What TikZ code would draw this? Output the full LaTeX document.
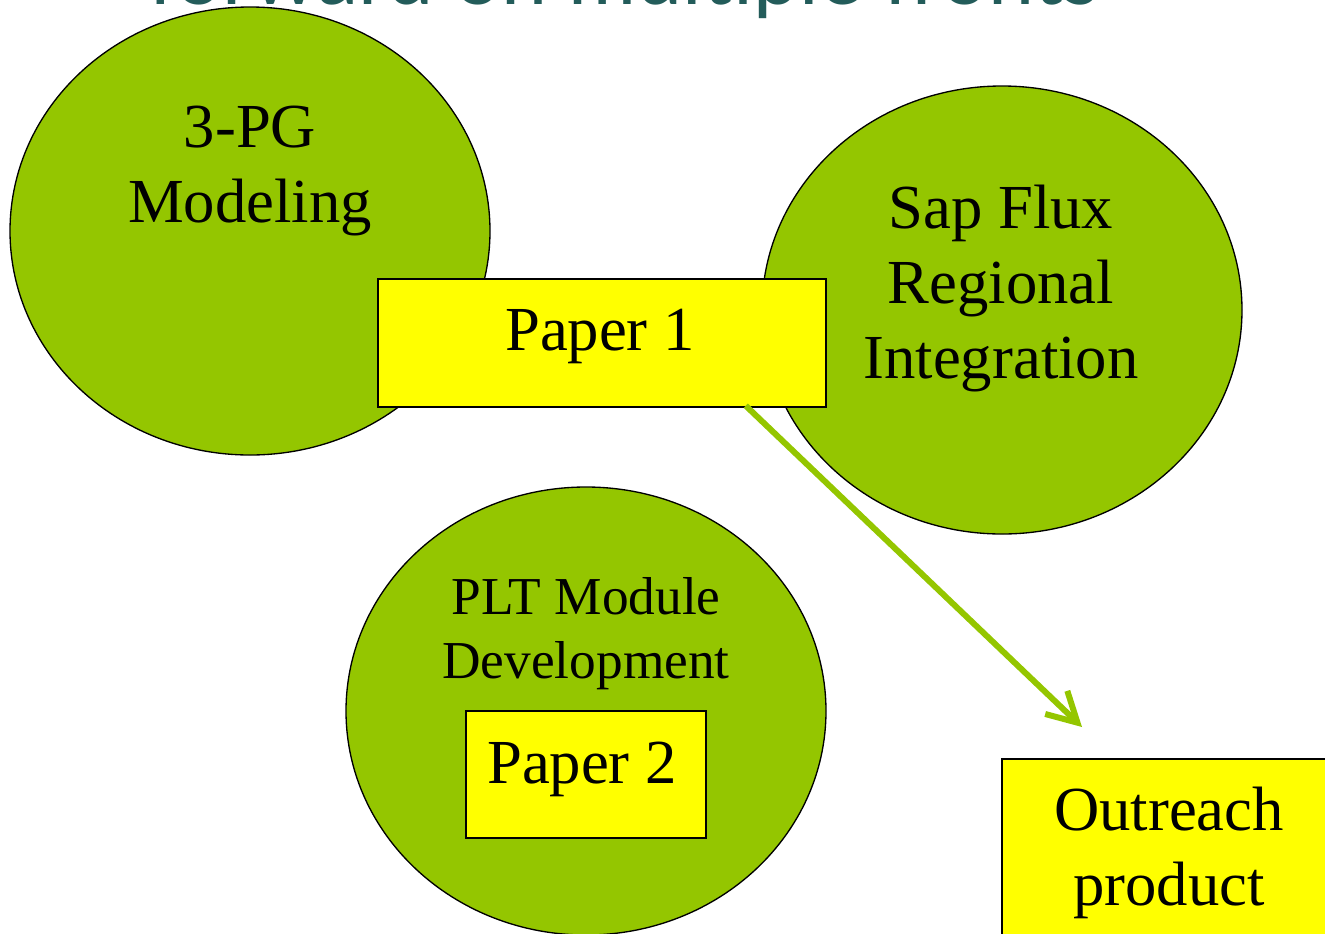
\documentclass[tikz,border=0pt]{standalone}
\usepackage{fontspec}
\setmainfont{Liberation Serif}
\newfontfamily\titlefont{Lato}
\usetikzlibrary{shapes.geometric,arrows.meta,calc}
\definecolor{leaf}{RGB}{148,198,0}
\definecolor{paperyellow}{RGB}{255,255,0}
\definecolor{titleteal}{RGB}{35,92,90}
\tikzset{
  blob/.style={ellipse,draw=black,line width=1pt,fill=leaf,inner sep=0pt,
    minimum width=360pt,minimum height=336pt},
  paperbox/.style={rectangle,draw=black,line width=1.1pt,fill=paperyellow,inner sep=0pt},
  bigtext/.style={font=\fontsize{47}{56}\selectfont,align=center,inner sep=0pt},
  midtext/.style={font=\fontsize{40}{48}\selectfont,align=center,inner sep=0pt},
  flow/.style={draw=leaf,line width=4.5pt,-{Straight Barb[length=22pt,width=24pt]}}
}
\begin{document}
\begin{tikzpicture}[x=0.75pt,y=-0.75pt]
\useasboundingbox (0,0) rectangle (1325,933);
\clip (0,0) rectangle (1325,933);
\node[anchor=base west,inner sep=0pt,text=titleteal,font=\titlefont\fontsize{62}{66}\selectfont] (title) at (148,4) {forward on multiple fronts};
% ellipses
\node[blob] (pg) at (250,231) {};
\node[blob] (sap) at (1002,310) {};
\node[blob] (plt) at (586,711) {};
% ellipse texts (base = last line)
\node[bigtext,anchor=base] (pgtext) at (250,222) {3-PG\\Modeling};
\node[bigtext,anchor=base] (saptext) at (1001,378) {Sap Flux\\Regional\\Integration};
\node[midtext,anchor=base] (plttext) at (586,678) {PLT Module\\Development};
% boxes
\node[paperbox,minimum width=336pt,minimum height=96pt] (p1) at (602,343) {};
\node[bigtext,anchor=base] (p1text) at (600,350) {Paper 1};
\node[paperbox,minimum width=180pt,minimum height=95pt] (p2) at (586,774.5) {};
\node[bigtext,anchor=base] (p2text) at (582,783) {Paper 2};
\node[paperbox,minimum width=255pt,minimum height=150pt] (out) at (1172,859) {};
\node[bigtext,anchor=base] (outtext) at (1169,905) {Outreach\\product};
% arrow
\coordinate (arrowend) at (1082,727);
\draw[flow] ($(p1.south east)+(-81,-2)$) -- (arrowend);
\end{tikzpicture}
\end{document}
